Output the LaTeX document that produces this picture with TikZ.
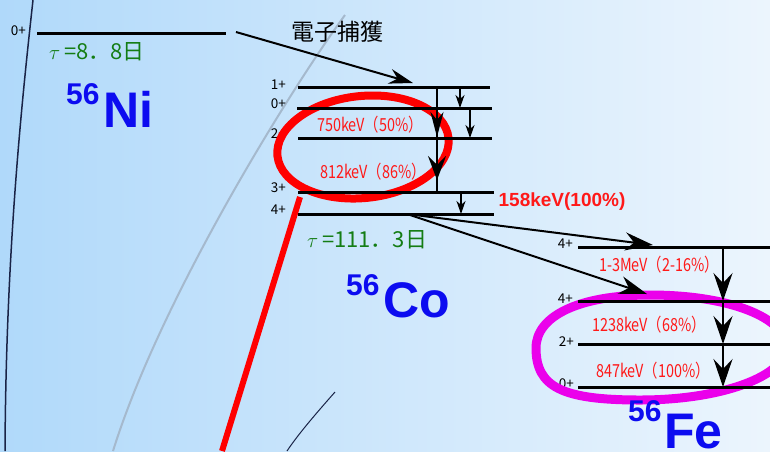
\documentclass[tikz,border=0pt]{standalone}
\usepackage{fontspec}
\setmainfont{Liberation Sans}
\newfontfamily\jp{Noto Sans CJK JP}
\newfontfamily\jpn{Noto Sans CJK JP}[FakeStretch=0.8]
\usetikzlibrary{arrows.meta,calc}
\definecolor{bgL}{RGB}{176,217,250}
\definecolor{bgR}{RGB}{236,245,253}
\definecolor{navy}{RGB}{25,35,70}
\definecolor{grayline}{RGB}{165,185,205}
\definecolor{grn}{RGB}{20,125,20}
\definecolor{blu}{RGB}{12,12,240}
\definecolor{rtxt}{RGB}{255,25,25}
\definecolor{mag}{RGB}{235,0,235}
\tikzset{
  level/.style={line width=3pt, line cap=butt},
  vline/.style={line width=2pt},
  thin arrow/.style={line width=1.5pt, -{Stealth[length=13pt,width=9pt,inset=4pt]}},
  big arrow/.style={line width=2pt, -{Stealth[length=24pt,width=15pt,inset=8pt]}},
  fe arrow/.style={line width=2pt, -{Stealth[length=28pt,width=19pt,inset=10pt]}},
  tr arrow/.style={line width=2pt, -{Stealth[length=28pt,width=18pt,inset=9pt]}},
  spin/.style={font=\jp\fontsize{13.5}{13.5}\selectfont, anchor=mid east, inner sep=0pt},
  gamma/.style={font=\jpn\fontsize{18}{18}\selectfont, text=rtxt, inner sep=0pt},
  life/.style={font=\jp\fontsize{22}{22}\selectfont, text=grn, anchor=base west, inner sep=0pt},
  nucA/.style={font=\bfseries\fontsize{30}{30}\selectfont, text=blu, anchor=base west, inner sep=0pt},
  nucB/.style={font=\bfseries\fontsize{50}{50}\selectfont, text=blu, anchor=base west, inner sep=0pt},
}
\begin{document}
\begin{tikzpicture}[x=1pt,y=-1pt]
\useasboundingbox (0,0) rectangle (770,451);
\shade[left color=bgL, right color=bgR] (0,0) rectangle (770,451);
% decorative curves
\draw[navy, line width=1.5pt] (33,0) .. controls (22,100) and (6,250) .. (5,451);
\draw[grayline, line width=2pt] (345,15) .. controls (290,90) and (160,300) .. (113,451);
\draw[navy, line width=1pt] (335,392) .. controls (312,418) and (297,436) .. (287,451);

% ---------- labels that the ellipses overlap ----------
\node[spin] (sNi0) at (26,33) {0+};
\node[spin] (sCo1) at (286,87) {1+};
\node[spin] (sCo0) at (286,106) {0+};
\node[spin] (sCo2) at (286,136) {2+};
\node[spin] (sCo3) at (286,190) {3+};
\node[spin] (sCo4) at (286,212) {4+};
\node[spin] (sFe4a) at (573,246) {4+};
\node[spin] (sFe4b) at (573,301) {4+};
\node[spin] (sFe2) at (574,344) {2+};
\node[spin] (sFe0) at (574,386) {0+};

% ---------- ellipses ----------
\coordinate (redc) at (363,147);
\draw[red, line width=8pt, rotate around={6:(redc)}] (redc) ellipse [x radius=86, y radius=51];
\coordinate (redA) at (300,197);
\coordinate (redB) at (222,451);
\draw[red, line width=6pt] (redA) -- (redB);
\coordinate (mL) at (536,348);
\coordinate (mT) at (650,295);
\coordinate (mR) at (786,347);
\coordinate (mB) at (640,400);
\draw[mag, line width=9pt]
  (mL) .. controls (536,316) and (579,295) .. (mT)
       .. controls (730,295) and (786,318) .. (mR)
       .. controls (786,376) and (722,400) .. (mB)
       .. controls (562,400) and (536,387) .. (mL) -- cycle;

% ---------- Ni level ----------
\coordinate (ni0L) at (37,33);
\coordinate (ni0R) at (226,33);
\draw[level] (ni0L) -- (ni0R);

% ---------- Co levels ----------
\coordinate (co1L) at (298,87);  \coordinate (co1R) at (490,87);
\coordinate (co0L) at (297,108); \coordinate (co0R) at (492,108);
\coordinate (co2L) at (298,138); \coordinate (co2R) at (492,138);
\coordinate (co3L) at (298,192); \coordinate (co3R) at (494,192);
\coordinate (co4L) at (298,214); \coordinate (co4R) at (494,214);
\foreach \l in {co1,co0,co2,co3,co4} \draw[level] (\l L) -- (\l R);

% ---------- Fe levels ----------
\coordinate (fe4aL) at (578,247); \coordinate (fe4aR) at (770,247);
\coordinate (fe4bL) at (578,301); \coordinate (fe4bR) at (770,301);
\coordinate (fe2L) at (578,344);  \coordinate (fe2R) at (770,344);
\coordinate (fe0L) at (578,387);  \coordinate (fe0R) at (770,387);
\foreach \l in {fe4a,fe4b,fe2,fe0} \draw[level] (\l L) -- (\l R);

% ---------- electron capture ----------
\coordinate (ecA) at (236,32);
\coordinate (ecB) at (413,83);
\draw[big arrow] (ecA) -- (ecB);
\node[font=\jp\fontsize{23}{23}\selectfont, inner sep=0pt] (ec) at (337,32) {電子捕獲};

% ---------- Co gamma transitions ----------
\coordinate (gA1) at (437,87);
\coordinate (gA2) at (437,137);
\coordinate (gA3) at (437,180);
\coordinate (gA4) at (437,192);
\draw[vline] (gA1) -- (gA4);
\draw[line width=2pt, -{Stealth[length=25pt,width=13pt,inset=8pt]}] (gA1) -- (gA2);
\draw[line width=2pt, -{Stealth[length=24pt,width=18pt,inset=9pt]}] (gA2) -- (gA3);
\coordinate (gB1) at (460,87);  \coordinate (gB2) at (460,108);
\draw[thin arrow] (gB1) -- (gB2);
\coordinate (gC1) at (470,108); \coordinate (gC2) at (470,138);
\draw[thin arrow] (gC1) -- (gC2);
\coordinate (gD1) at (461,192); \coordinate (gD2) at (461,214);
\draw[thin arrow] (gD1) -- (gD2);

% ---------- Co -> Fe decays ----------
\coordinate (cfA) at (407,214);
\coordinate (cfB) at (653,245);
\coordinate (cfC) at (647,294);
\draw[tr arrow] (cfA) -- (cfB);
\draw[tr arrow] (cfA) -- (cfC);

% ---------- Fe gamma transitions ----------
\coordinate (fA) at (723,247);
\coordinate (fB) at (723,301);
\coordinate (fC) at (723,344);
\coordinate (fD) at (723,387);
\draw[fe arrow] (fA) -- (fB);
\draw[fe arrow] (fB) -- (fC);
\draw[fe arrow] (fC) -- (fD);

% ---------- gamma energy labels ----------
\node[gamma] (t750) at (370,125) {750keV（50\%）};
\node[gamma] (t812) at (373,172) {812keV（86\%）};
\node[font=\bfseries\fontsize{19}{19}\selectfont, text=rtxt, inner sep=0pt] (t158) at (562,202) {158keV(100\%)};
\node[gamma] (t13) at (659,265) {1-3MeV（2-16\%）};
\node[gamma] (t1238) at (649,325) {1238keV（68\%）};
\node[gamma] (t847) at (653,371) {847keV（100\%）};

% ---------- lifetimes ----------
\node[life] (tauNi) at (49,59) {$\tau$\,=8．8日};
\node[life] (tauCo) at (307,247) {$\tau$\,=111．3日};

% ---------- nuclide names ----------
\node[nucA] (aNi) at (66,104) {56};
\node[nucB] (nNi) at (103,127) {Ni};
\node[nucA] (aCo) at (346,295) {56};
\node[nucB] (nCo) at (383,317) {Co};
\node[nucA] (aFe) at (628,421) {56};
\node[nucB] (nFe) at (664,448) {Fe};
\end{tikzpicture}
\end{document}
